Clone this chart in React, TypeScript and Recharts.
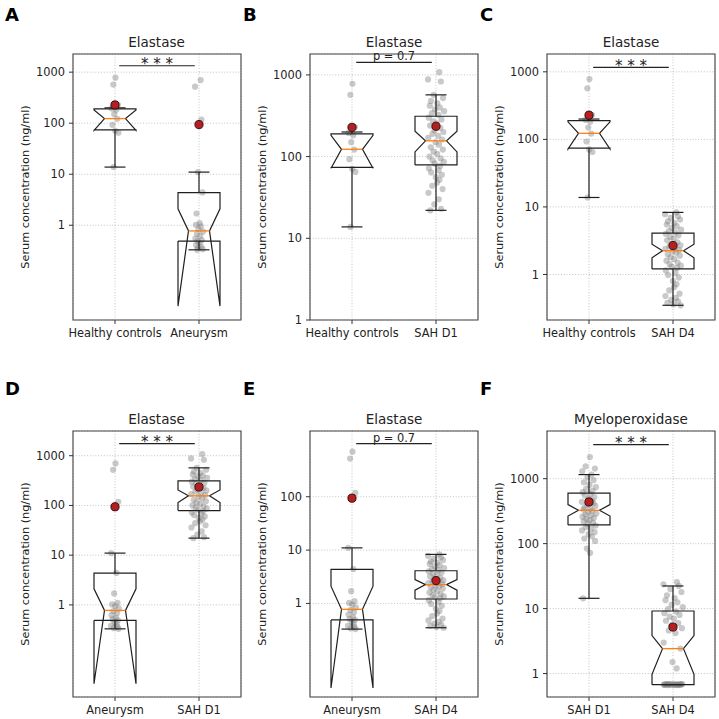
import { ComposedChart, XAxis, YAxis, CartesianGrid, Scatter, ReferenceLine, ReferenceArea } from 'recharts';

const FONT = '"DejaVu Sans", sans-serif';
const INK = '#222222';
const BOX_COLOR = '#1f1f1f';
const MEDIAN_COLOR = '#ff7f0e';
const MEAN_COLOR = '#b51f1f';

// raw points per group (ng/ml)
const HC_VALUES = [780, 570, 230, 195, 183, 150, 122, 93, 71, 65, 13.8];
const AN_VALUES = [700, 520, 118, 11, 4.4, 1.7, 1.1, 1.02, 0.95, 0.84, 0.75, 0.68, 0.62, 0.55, 0.51, 0.49, 0.45, 0.41, 0.38, 0.36, 0.34, 0.33];
const D1_VALUES = [1080, 880, 830, 570, 520, 480, 450, 420, 400, 380, 360, 340, 325, 300, 285, 270, 255, 240, 225, 210, 200, 190, 180, 170, 162, 150, 140, 130, 122, 115, 108, 100, 95, 90, 86, 82, 77, 72, 68, 64, 60, 56, 52, 48, 44, 40, 36, 30, 26, 23, 22];
const D4_VALUES = [8.3, 7.8, 7.3, 6.9, 6.5, 6.1, 5.8, 5.5, 5.2, 4.9, 4.6, 4.4, 4.2, 4.0, 3.8, 3.6, 3.4, 3.2, 3.0, 2.85, 2.7, 2.6, 2.5, 2.4, 2.3, 2.2, 2.1, 2.0, 1.9, 1.8, 1.7, 1.6, 1.5, 1.42, 1.35, 1.3, 1.25, 1.15, 1.05, 0.98, 0.9, 0.8, 0.72, 0.65, 0.58, 0.52, 0.48, 0.45, 0.42, 0.4, 0.38, 0.36, 0.35];
const MPO1_VALUES = [2150, 1550, 1430, 1300, 1156, 1050, 950, 880, 800, 740, 690, 650, 620, 580, 550, 520, 490, 460, 440, 420, 400, 380, 360, 345, 335, 320, 305, 290, 280, 270, 260, 250, 240, 230, 220, 210, 200, 190, 180, 170, 160, 150, 140, 130, 120, 110, 84, 72, 14.4];
const MPO4_VALUES = [25.6, 23.7, 22.3, 20, 18, 16, 14.5, 13.5, 12.5, 11.5, 10.5, 9.8, 9.0, 8.5, 8.0, 7.5, 7.0, 6.5, 6.0, 5.5, 5.0, 4.6, 4.2, 3.0, 2.42, 1.5, 1.2, 0.69, 0.68, 0.685, 0.67, 0.675, 0.68, 0.665, 0.69, 0.675, 0.67, 0.68, 0.685, 0.675, 0.67, 0.68, 0.665, 0.675, 0.685, 0.68, 0.67];

// box stats: [whisker low, q1, median, q3, whisker high]
const HC_BOX = [13.8, 74, 123, 190, 200];
const AN_BOX = [0.33, 0.49, 0.775, 4.35, 11];
const D1_BOX = [22, 79, 156, 312, 570];
const D4_BOX = [0.35, 1.21, 2.25, 4.1, 8.3];
const MPO1_BOX = [14.4, 194, 326, 601, 1156];
const MPO4_BOX = [0.675, 0.675, 2.42, 9.19, 22.3];

// notch [low, high] (as drawn)
const HC_NOTCH = [72, 182];
const AN_NOTCH = [0.026, 2.1];
const D1_NOTCH = [114, 205];
const D4_NOTCH = [1.77, 2.8];
const MPO1_NOTCH = [266, 399];
const MPO4_NOTCH = [0.973, 3.84];

const MEANS = { hc: 228, an: 94, d1: 235, d4: 2.68, mpo1: 438, mpo4: 5.2 };

// hand-placed horizontal jitter of the strip points (fraction of spread)
const JITTER = [0.12, -0.45, 0.78, -0.9, 0.33, -0.2, 0.6, -0.67, 0.05, 0.91, -0.38, 0.47, -0.82, 0.21, -0.55, 0.7, -0.08, 0.39, -0.95, 0.58, -0.27, 0.84, -0.6, 0.16, -0.74, 0.44, -0.13, 0.97, -0.49, 0.29, -0.86, 0.65, -0.33, 0.08, -0.7, 0.52, -0.18, 0.88, -0.42, 0.25, -0.92, 0.73, -0.05, 0.36, -0.62, 0.81, -0.29, 0.14, -0.78, 0.55, -0.4, 0.93, -0.15, 0.48, -0.85, 0.3, -0.58, 0.69, -0.02, 0.41];

const LOG_TICKS = [1, 10, 100, 1000];
const LOG_TICKS_SHORT = [1, 10, 100];

interface Group {
  name: string;
  values: number[];
  box: number[];
  notch: number[];
  mean: number;
  spread: number;
}

const GROUPS: Record<string, Group> = {
  hc: { name: 'Healthy controls', values: HC_VALUES, box: HC_BOX, notch: HC_NOTCH, mean: MEANS.hc, spread: 0.045 },
  an: { name: 'Aneurysm', values: AN_VALUES, box: AN_BOX, notch: AN_NOTCH, mean: MEANS.an, spread: 0.05 },
  d1: { name: 'SAH D1', values: D1_VALUES, box: D1_BOX, notch: D1_NOTCH, mean: MEANS.d1, spread: 0.1 },
  d4: { name: 'SAH D4', values: D4_VALUES, box: D4_BOX, notch: D4_NOTCH, mean: MEANS.d4, spread: 0.1 },
  mpo1: { name: 'SAH D1', values: MPO1_VALUES, box: MPO1_BOX, notch: MPO1_NOTCH, mean: MEANS.mpo1, spread: 0.09 },
  mpo4: { name: 'SAH D4', values: MPO4_VALUES, box: MPO4_BOX, notch: MPO4_NOTCH, mean: MEANS.mpo4, spread: 0.12 },
};

interface PanelSpec {
  letter: string;
  title: string;
  groups: string[];
  domain: [number, number];
  ticks: number[];
  sig: string;
  sigY: number;
  col: number;
  row: number;
}

const PANELS: PanelSpec[] = [
  { letter: 'A', title: 'Elastase', groups: ['hc', 'an'], domain: [0.0139, 2270], ticks: LOG_TICKS, sig: '* * *', sigY: 1337, col: 0, row: 0 },
  { letter: 'B', title: 'Elastase', groups: ['hc', 'd1'], domain: [1, 1803], ticks: LOG_TICKS, sig: 'p = 0.7', sigY: 1422, col: 1, row: 0 },
  { letter: 'C', title: 'Elastase', groups: ['hc', 'd4'], domain: [0.212, 1836], ticks: LOG_TICKS, sig: '* * *', sigY: 1164, col: 2, row: 0 },
  { letter: 'D', title: 'Elastase', groups: ['an', 'd1'], domain: [0.01406, 3140], ticks: LOG_TICKS, sig: '* * *', sigY: 1750, col: 0, row: 1 },
  { letter: 'E', title: 'Elastase', groups: ['an', 'd4'], domain: [0.0176, 1708], ticks: LOG_TICKS_SHORT, sig: 'p = 0.7', sigY: 990, col: 1, row: 1 },
  { letter: 'F', title: 'Myeloperoxidase', groups: ['mpo1', 'mpo4'], domain: [0.4355, 5420], ticks: LOG_TICKS, sig: '* * *', sigY: 3350, col: 2, row: 1 },
];

const COL_LEFT = [72.5, 310, 547];
const ROW_TOP = [54, 431];
const LETTER_X = [5, 243, 480];
const LETTER_Y = [6, 380];
const PLOT_W = 168;
const PLOT_H = 266;
const Y_AXIS_W = 96;
const TOP_M = 40;
const X_AXIS_H = 30;

const noDot = () => <g />;

function boxParts(g: Group, c: number) {
  const [wLo, q1, med, q3, wHi] = g.box;
  const [nLo, nHi] = g.notch;
  const hw = 0.25;
  const nw = 0.125;
  const outline = [
    { x: c - hw, y: q1 }, { x: c + hw, y: q1 }, { x: c + hw, y: nLo }, { x: c + nw, y: med },
    { x: c + hw, y: nHi }, { x: c + hw, y: q3 }, { x: c - hw, y: q3 }, { x: c - hw, y: nHi },
    { x: c - nw, y: med }, { x: c - hw, y: nLo }, { x: c - hw, y: q1 },
  ];
  const lines = [
    [{ x: c, y: q1 }, { x: c, y: wLo }],
    [{ x: c, y: q3 }, { x: c, y: wHi }],
    [{ x: c - nw, y: wLo }, { x: c + nw, y: wLo }],
    [{ x: c - nw, y: wHi }, { x: c + nw, y: wHi }],
  ];
  const median = [{ x: c - nw, y: med }, { x: c + nw, y: med }];
  return { outline, lines, median };
}

function Panel({ p }: { p: PanelSpec }) {
  const left = COL_LEFT[p.col];
  const top = ROW_TOP[p.row];
  const groups = p.groups.map((k) => GROUPS[k]);
  const names = groups.map((g) => g.name);

  const points = groups.flatMap((g, gi) =>
    g.values.map((v, i) => ({ x: gi + 1 + JITTER[(i + gi * 17) % JITTER.length] * g.spread, y: v }))
  );
  const means = groups.map((g, gi) => ({ x: gi + 1, y: g.mean }));
  const parts = groups.map((g, gi) => boxParts(g, gi + 1));
  const isStars = p.sig.startsWith('*');

  return (
    <>
      <div style={{ position: 'absolute', left: LETTER_X[p.col], top: LETTER_Y[p.row], fontSize: 18, lineHeight: '18px', fontWeight: 'bold', color: '#000' }}>
        {p.letter}
      </div>
      <div style={{ position: 'absolute', left, top: top - 20, width: PLOT_W, textAlign: 'center', fontSize: 13.5, lineHeight: '16px', color: INK }}>
        {p.title}
      </div>
      <div style={{ position: 'absolute', left: left - Y_AXIS_W, top: top - TOP_M }}>
        <ComposedChart
          width={Y_AXIS_W + PLOT_W + 6}
          height={TOP_M + PLOT_H + X_AXIS_H}
          margin={{ top: TOP_M, right: 6, bottom: 0, left: 0 }}
        >
          <CartesianGrid stroke="#b4b4b4" strokeDasharray="1 1.8" strokeWidth={0.8} />
          <XAxis
            type="number"
            dataKey="x"
            domain={[0.5, 2.5]}
            ticks={[1, 2]}
            interval={0}
            allowDataOverflow
            height={X_AXIS_H}
            axisLine={false}
            tickLine={{ stroke: '#333' }}
            tickSize={4}
            tickMargin={5}
            tick={{ fontSize: 11.4, fill: INK }}
            tickFormatter={(v: number) => names[Math.round(v) - 1]}
          />
          <YAxis
            type="number"
            dataKey="y"
            scale="log"
            domain={p.domain}
            ticks={p.ticks}
            interval={0}
            allowDataOverflow
            width={Y_AXIS_W}
            axisLine={false}
            tickLine={{ stroke: '#333' }}
            tickSize={4}
            tickMargin={4}
            tick={{ fontSize: 11.4, fill: INK }}
            tickFormatter={(v: number) => String(v)}
            label={{ value: 'Serum concentration (ng/ml)', angle: -90, position: 'center', fontSize: 11.3, fill: INK }}
          />
          <Scatter
            data={points}
            isAnimationActive={false}
            shape={(s: any) => <circle cx={s.cx} cy={s.cy} r={3.1} fill="#7f7f7f" fillOpacity={0.42} />}
          />
          {parts.map((b, i) => (
            <Scatter
              key={`o${i}`}
              data={b.outline}
              line={{ stroke: BOX_COLOR, strokeWidth: 1.2 }}
              fill={BOX_COLOR}
              shape={noDot}
              isAnimationActive={false}
            />
          ))}
          {parts.flatMap((b, i) =>
            b.lines.map((seg, j) => (
              <Scatter
                key={`w${i}-${j}`}
                data={seg}
                line={{ stroke: BOX_COLOR, strokeWidth: 1.2 }}
                fill={BOX_COLOR}
                shape={noDot}
                isAnimationActive={false}
              />
            ))
          )}
          {parts.map((b, i) => (
            <Scatter
              key={`m${i}`}
              data={b.median}
              line={{ stroke: MEDIAN_COLOR, strokeWidth: 1.3 }}
              fill={MEDIAN_COLOR}
              shape={noDot}
              isAnimationActive={false}
            />
          ))}
          <Scatter
            data={means}
            isAnimationActive={false}
            shape={(s: any) => <circle cx={s.cx} cy={s.cy} r={4.1} fill={MEAN_COLOR} stroke="#2a0a0a" strokeWidth={0.9} />}
          />
          <ReferenceLine
            segment={[{ x: 1.05, y: p.sigY }, { x: 1.95, y: p.sigY }]}
            stroke={INK}
            strokeWidth={1.2}
            ifOverflow="visible"
            label={{ value: p.sig, position: 'top', offset: isStars ? -3.5 : 2, fontSize: isStars ? 15 : 11.4, fill: INK }}
          />
          <ReferenceArea
            x1={0.5}
            x2={2.5}
            y1={p.domain[0]}
            y2={p.domain[1]}
            fill="none"
            fillOpacity={0}
            stroke="#444"
            strokeWidth={1.1}
            ifOverflow="visible"
          />
        </ComposedChart>
      </div>
    </>
  );
}

export default function App() {
  return (
    <div style={{ position: 'absolute', left: 0, top: 0, width: 719, height: 719, background: '#fff', fontFamily: FONT, overflow: 'hidden' }}>
      {PANELS.map((p) => (
        <Panel key={p.letter} p={p} />
      ))}
    </div>
  );
}
